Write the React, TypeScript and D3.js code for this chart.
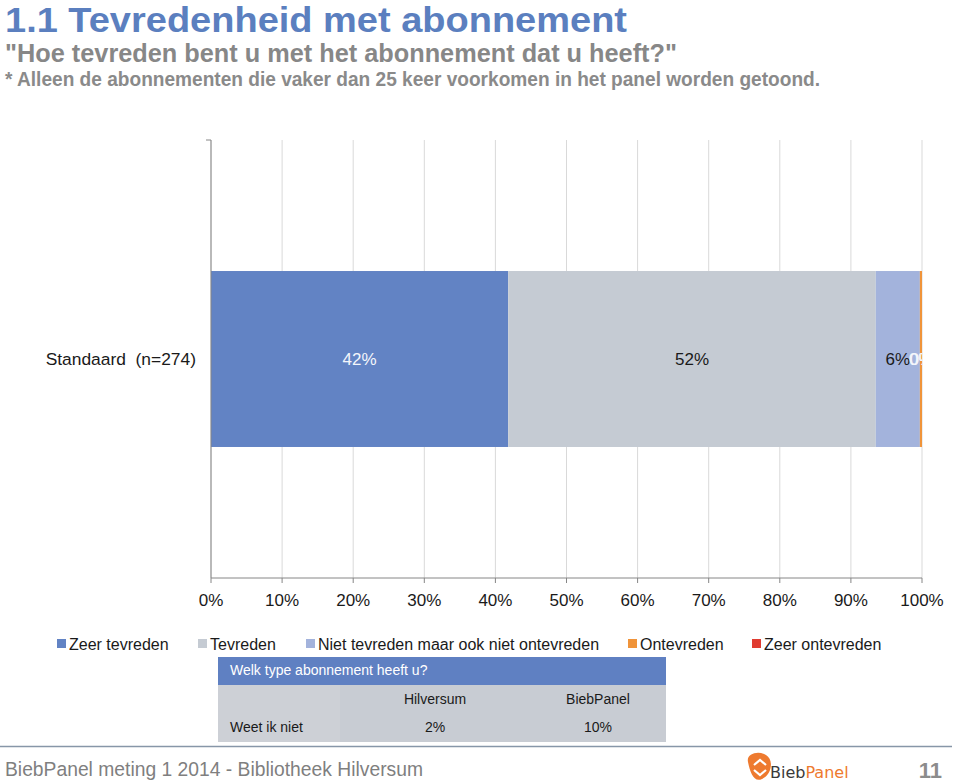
import React from "react";
import * as d3 from "d3";

const categories = ["Standaard  (n=274)"];
const seriesNames = ["Zeer tevreden", "Tevreden", "Niet tevreden maar ook niet ontevreden", "Ontevreden", "Zeer ontevreden"];
const seriesColors = ["#6283c4", "#c5cbd3", "#a3b3dc", "#f0943a", "#e03c31"];
const labelColors = ["#f4f6fb", "#1a1a1a", "#1a1a1a", "#f4f6fb", "#f4f6fb"];
const values = [[0.418], [0.517], [0.062], [0.003], [0.0]];
const valueLabels = [["42%"], ["52%"], ["6%"], ["0%"], ["0%"]];
const ticks = [0, 0.1, 0.2, 0.3, 0.4, 0.5, 0.6, 0.7, 0.8, 0.9, 1.0];

const tableHeader = "Welk type abonnement heeft u?";
const tableColumns = ["Hilversum", "BiebPanel"];
const tableRowLabel = "Weet ik niet";
const tableValues = ["2%", "10%"];

const legendX = [57, 198, 306, 628, 752];

export default function App() {
  const W = 960, H = 784;
  const x = d3.scaleLinear().domain([0, 1]).range([211, 922]);
  const y = d3.scaleBand().domain(categories).range([140, 578]).padding(0.4268);
  const rows = categories.map((c, i) => {
    const r: any = { cat: c };
    seriesNames.forEach((s, k) => (r[s] = values[k][i]));
    return r;
  });
  const stacked = d3.stack().keys(seriesNames)(rows as any);
  const font = "Liberation Sans, Arial, sans-serif";

  return (
    <svg width={W} height={H} style={{ position: "absolute", left: 0, top: 0, background: "#fff" }} fontFamily={font}>
      <defs>
        <clipPath id="plotClip">
          <rect x={x(0)} y={140} width={x(1) - x(0)} height={438} />
        </clipPath>
      </defs>
      <rect width={W} height={H} fill="#fff" />
      {/* Titles */}
      <text x={5} y={32} fontSize={35} fontWeight="bold" fill="#5b7fbf" textLength={622} lengthAdjust="spacingAndGlyphs">1.1 Tevredenheid met abonnement</text>
      <text x={5} y={62} fontSize={25} fontWeight="bold" fill="#878787" textLength={672} lengthAdjust="spacingAndGlyphs">"Hoe tevreden bent u met het abonnement dat u heeft?"</text>
      <text x={5} y={86} fontSize={20} fontWeight="bold" fill="#8a8a8a" textLength={815} lengthAdjust="spacingAndGlyphs">* Alleen de abonnementen die vaker dan 25 keer voorkomen in het panel worden getoond.</text>

      {/* gridlines */}
      {ticks.map((t, i) => (
        <line key={i} x1={x(t)} x2={x(t)} y1={140} y2={578} stroke="#d9d9d9" strokeWidth={1} />
      ))}
      {/* bars */}
      {stacked.map((s, k) =>
        s.map((d, i) => (
          <rect key={k + "-" + i} x={x(d[0])} y={y(categories[i])} width={Math.max(0, x(d[1]) - x(d[0]))} height={y.bandwidth()} fill={seriesColors[k]} />
        ))
      )}
      {/* axes */}
      <line x1={x(0)} x2={x(0)} y1={140} y2={578} stroke="#868686" />
      <line x1={x(0) - 5} x2={x(0)} y1={140} y2={140} stroke="#868686" />
      <line x1={x(0)} x2={x(1)} y1={578} y2={578} stroke="#868686" />
      {ticks.map((t, i) => (
        <g key={i}>
          <line x1={x(t)} x2={x(t)} y1={578} y2={583} stroke="#868686" />
          <text x={x(t)} y={606} fontSize={17} textAnchor="middle" fill="#1a1a1a">{d3.format(".0%")(t)}</text>
        </g>
      ))}
      {/* category labels */}
      {categories.map((c, i) => (
        <text key={c} x={196} y={(y(c) as number) + y.bandwidth() / 2 + 6} fontSize={17.4} textAnchor="end" fill="#1a1a1a" style={{ whiteSpace: "pre" }}>{c}</text>
      ))}
      {/* value labels */}
      <g clipPath="url(#plotClip)">
        {stacked.map((s, k) =>
          s.map((d, i) => (
            <text key={k + "-" + i} x={(x(d[0]) + x(d[1])) / 2} y={(y(categories[i]) as number) + y.bandwidth() / 2 + 6} fontSize={17} textAnchor="middle" fill={labelColors[k]}>{valueLabels[k][i]}</text>
          ))
        )}
      </g>
      {/* legend */}
      {seriesNames.map((s, k) => (
        <g key={s}>
          <rect x={legendX[k]} y={639} width={9} height={9} fill={seriesColors[k]} />
          <text x={legendX[k] + 12} y={650} fontSize={16} fill="#1a1a1a">{s}</text>
        </g>
      ))}
      {/* table */}
      <rect x={218} y={657} width={448} height={28} fill="#5f80c2" />
      <rect x={218} y={685} width={448} height={57} fill="#c8ccd3" />
      <rect x={218} y={685} width={122} height={57} fill="#cdd0d6" />
      <text x={230} y={675} fontSize={14} fill="#ffffff">{tableHeader}</text>
      {tableColumns.map((c, i) => (
        <text key={c} x={[435, 598][i]} y={704} fontSize={14} textAnchor="middle" fill="#1a1a1a">{c}</text>
      ))}
      <text x={230} y={732} fontSize={14} fill="#1a1a1a">{tableRowLabel}</text>
      {tableValues.map((v, i) => (
        <text key={i} x={[435, 598][i]} y={732} fontSize={14} textAnchor="middle" fill="#1a1a1a">{v}</text>
      ))}
      {/* footer */}
      <line x1={0} x2={952} y1={746.5} y2={746.5} stroke="#8796a8" strokeWidth={1.5} />
      <text x={5} y={776} fontSize={19.3} fill="#7f7f7f">BiebPanel meting 1 2014 - Bibliotheek Hilversum</text>
      <text x={942} y={778} fontSize={22} fontWeight="bold" fill="#8c8c8c" textAnchor="end">11</text>
      {/* logo */}
      <g transform="translate(744,752)">
        <path d="M4,10 C2,2 14,-2 22,3 C30,8 28,22 18,27 C10,31 6,20 4,10 Z" fill="#ee7a2f" />
        <path d="M10,13 L16,8 L22,13" fill="none" stroke="#fff" strokeWidth={2.2} />
        <path d="M10,18 L16,23 L22,18" fill="none" stroke="#fff" strokeWidth={2.2} />
        <text x={26} y={26} fontSize={16} fill="#3a3a3a" fontFamily="DejaVu Sans, sans-serif">Bieb<tspan fill="#ee7a2f">Panel</tspan></text>
      </g>
    </svg>
  );
}
